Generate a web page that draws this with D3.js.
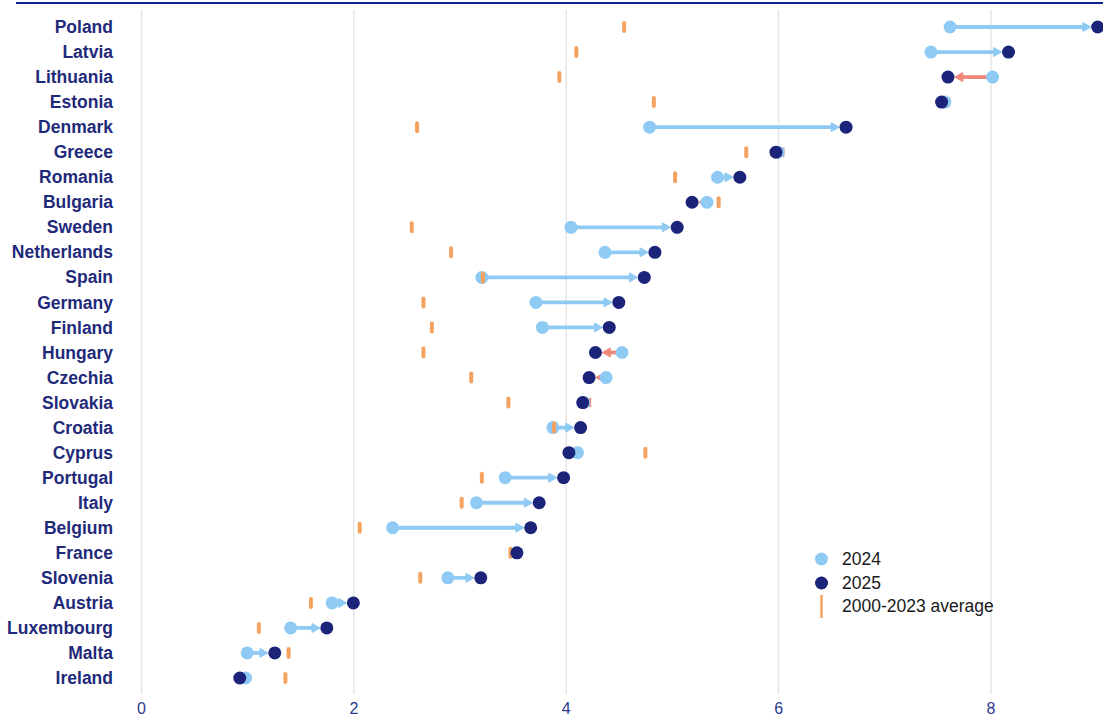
<!DOCTYPE html>
<html><head><meta charset="utf-8">
<script src="https://cdn.jsdelivr.net/npm/d3@7"></script>
<style>body{margin:0;background:#fff}svg{display:block}</style>
</head><body>
<svg id="c" width="1103" height="716"></svg>
<script>
const countries = ["Poland","Latvia","Lithuania","Estonia","Denmark","Greece","Romania","Bulgaria","Sweden","Netherlands","Spain","Germany","Finland","Hungary","Czechia","Slovakia","Croatia","Cyprus","Portugal","Italy","Belgium","France","Slovenia","Austria","Luxembourg","Malta","Ireland"];
const v2024 = [7.62,7.44,8.02,7.57,4.79,6.00,5.43,5.33,4.05,4.37,3.21,3.72,3.78,4.53,4.38,4.17,3.88,4.11,3.43,3.16,2.37,3.54,2.89,1.80,1.41,1.00,0.985];
const v2025 = [9.01,8.17,7.60,7.54,6.64,5.98,5.64,5.19,5.05,4.84,4.74,4.50,4.41,4.28,4.22,4.16,4.14,4.03,3.98,3.75,3.67,3.54,3.20,2.00,1.75,1.26,0.93];
const avg0023 = [4.55,4.10,3.94,4.83,2.60,5.70,5.03,5.44,2.55,2.92,3.22,2.66,2.74,2.66,3.11,3.46,3.89,4.75,3.21,3.02,2.06,3.48,2.63,1.60,1.11,1.39,1.36];
const xTicks = [0,2,4,6,8];
const legendLabels = ["2024","2025","2000-2023 average"];

const C = {light:"#8fcaf4", dark:"#1b2479", avg:"#f3a35f", down:"#f0877b", label:"#1f2a7a", tick:"#2b3990", grid:"#e6e6e6", top:"#10228c"};
const svg = d3.select("#c");
const x = d3.scaleLinear().domain([0,9.06]).range([141,1103]);
const y = d3.scalePoint().domain(countries).range([27,678]);
const gridTop = 10, gridBot = 694;
const R = 6.5, HL = 8, HW = 4.5;

const data = countries.map((c,i)=>({c, a:v2024[i], b:v2025[i], m:avg0023[i]}));

// top rule
svg.append("line").attr("x1",16).attr("x2",1103).attr("y1",3).attr("y2",3)
  .attr("stroke",C.top).attr("stroke-width",2);

// x axis with gridlines
const xa = svg.append("g").attr("transform",`translate(0,${gridBot})`)
  .call(d3.axisBottom(x).tickValues(xTicks).tickSize(-(gridBot-gridTop)).tickPadding(9).tickFormat(d3.format("d")));
xa.select(".domain").remove();
xa.selectAll(".tick line").attr("stroke",C.grid).attr("stroke-width",1.5);
xa.selectAll(".tick text").attr("fill",C.tick).attr("font-family","Arial, 'Liberation Sans', sans-serif").attr("font-size",16);

// y axis labels
const ya = svg.append("g").attr("transform","translate(113,0)")
  .call(d3.axisLeft(y).tickSize(0).tickPadding(0));
ya.select(".domain").remove();
ya.selectAll(".tick text").attr("fill",C.label).attr("font-family","Arial, 'Liberation Sans', sans-serif")
  .attr("font-size",17.5).attr("font-weight","bold");

// arrows
const ag = svg.append("g");
data.forEach(d=>{
  const xa_ = x(d.a), xb = x(d.b), yy = y(d.c);
  const dx = xb - xa_;
  if (Math.abs(dx) < 0.5) return;
  const dir = Math.sign(dx);
  const col = dir > 0 ? C.light : C.down;
  let tip;
  if (Math.abs(dx) >= 2*R) tip = xb - dir*(R+0.3); else tip = xb;
  const base = tip - dir*HL;
  if (dir*(base - xa_) > 0) {
    ag.append("line").attr("x1",xa_).attr("x2",base+dir*1).attr("y1",yy).attr("y2",yy)
      .attr("stroke",col).attr("stroke-width",3.8);
  }
  ag.append("path").attr("d",`M${tip},${yy} L${base},${yy-HW} L${base},${yy+HW} Z`)
    .attr("fill",col).attr("stroke",col).attr("stroke-width",1).attr("stroke-linejoin","round");
});

// 2024 dots
svg.append("g").selectAll("circle").data(data).join("circle")
  .attr("cx",d=>x(d.a)).attr("cy",d=>y(d.c)).attr("r",R).attr("fill",C.light);
// averages
svg.append("g").selectAll("rect").data(data).join("rect")
  .attr("x",d=>x(d.m)-2).attr("y",d=>y(d.c)-6).attr("width",4).attr("height",12).attr("rx",2)
  .attr("fill",C.avg);
// 2025 dots
svg.append("g").selectAll("circle").data(data).join("circle")
  .attr("cx",d=>x(d.b)).attr("cy",d=>y(d.c)).attr("r",R).attr("fill",C.dark);

// legend
const lg = svg.append("g");
const ly = [559,583,606];
lg.append("circle").attr("cx",821.5).attr("cy",ly[0]).attr("r",6.5).attr("fill",C.light);
lg.append("circle").attr("cx",821.5).attr("cy",ly[1]).attr("r",6.5).attr("fill",C.dark);
lg.append("line").attr("x1",821.5).attr("x2",821.5).attr("y1",595).attr("y2",618).attr("stroke",C.avg).attr("stroke-width",2.5);
lg.selectAll("text").data(legendLabels).join("text")
  .attr("x",842).attr("y",(d,i)=>ly[i]).attr("dy","0.36em")
  .attr("font-family","Arial, 'Liberation Sans', sans-serif").attr("font-size",17.5).attr("fill","#1a1a1a")
  .text(d=>d);
</script>
</body></html>
